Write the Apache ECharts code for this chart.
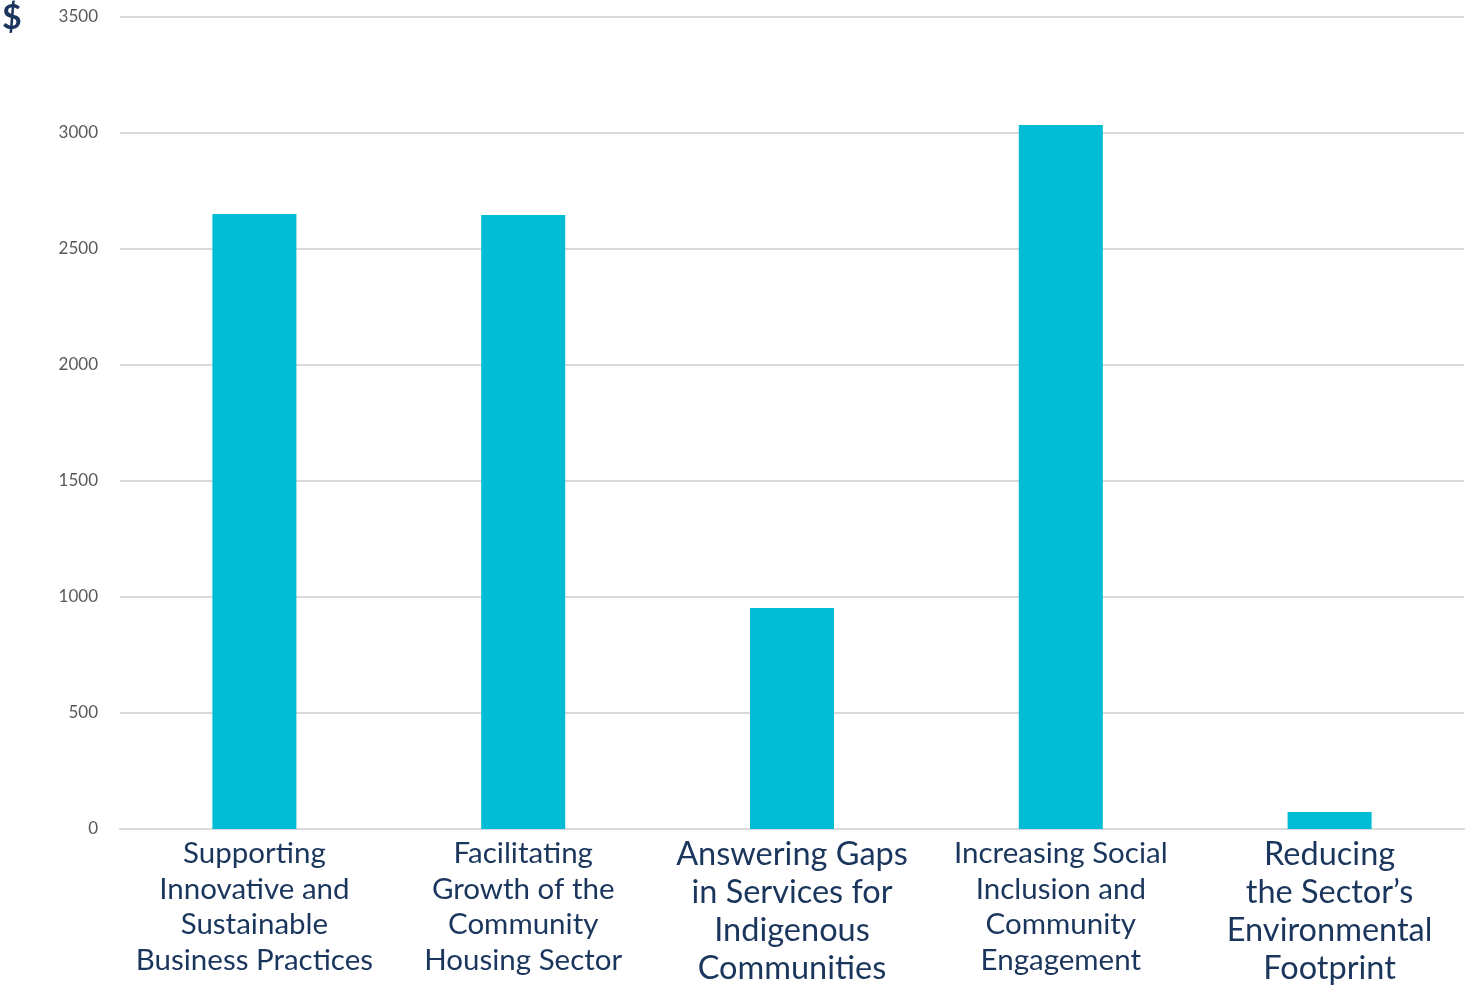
<!DOCTYPE html>
<html>
<head>
<meta charset="utf-8">
<script src="https://cdn.jsdelivr.net/npm/echarts@6/dist/echarts.min.js"></script>
<style>
  html, body { margin: 0; padding: 0; background: #fff; }
  #main { width: 1465px; height: 988px; }
</style>
</head>
<body>
<div id="main"></div>
<script>
var categories = [
    'Supporting\nInnovative and\nSustainable\nBusiness Practices',
    'Facilitating\nGrowth of the\nCommunity\nHousing Sector',
    'Answering Gaps\nin Services for\nIndigenous\nCommunities',
    'Increasing Social\nInclusion and\nCommunity\nEngagement',
    'Reducing\nthe Sector\u2019s\nEnvironmental\nFootprint'
];
var labelSizes = [29.5, 29.5, 32.5, 29.5, 32.5];
var amounts = [2651, 2647, 953, 3034, 73];

var myChart = echarts.init(document.getElementById('main'));

let option = {
    backgroundColor: '#ffffff',
    animation: false,
    grid: {
        left: 120,
        right: 1,
        top: 17,
        bottom: 159
    },
    graphic: [
        {
            type: 'text',
            left: 2,
            top: 1,
            style: {
                text: '$',
                font: 'bold 34px Lato',
                fill: '#1b365d'
            }
        }
    ],
    xAxis: {
        type: 'category',
        data: categories.map(function (c, i) {
            return {
                value: c,
                textStyle: {
                    fontSize: labelSizes[i],
                    lineHeight: labelSizes[i] > 30 ? 38 : 35.5
                }
            };
        }),
        axisLine: { lineStyle: { color: '#d9d9d9', width: 2 } },
        axisTick: { show: false },
        axisLabel: {
            interval: 0,
            margin: 7,
            color: '#1b365d',
            fontFamily: 'Lato',
            fontSize: 29.5,
            lineHeight: 35.5
        }
    },
    yAxis: {
        type: 'value',
        min: 0,
        max: 3500,
        interval: 500,
        axisLine: { show: false },
        axisTick: { show: false },
        axisLabel: {
            margin: 22,
            color: '#595959',
            fontFamily: 'Lato',
            fontSize: 17,
            formatter: function (v) { return String(v); }
        },
        splitLine: { lineStyle: { color: '#d9d9d9', width: 2 } }
    },
    series: [
        {
            type: 'bar',
            data: amounts,
            barWidth: 84,
            itemStyle: { color: '#00bcd4' }
        }
    ]
};

myChart.setOption(option);
</script>
</body>
</html>
